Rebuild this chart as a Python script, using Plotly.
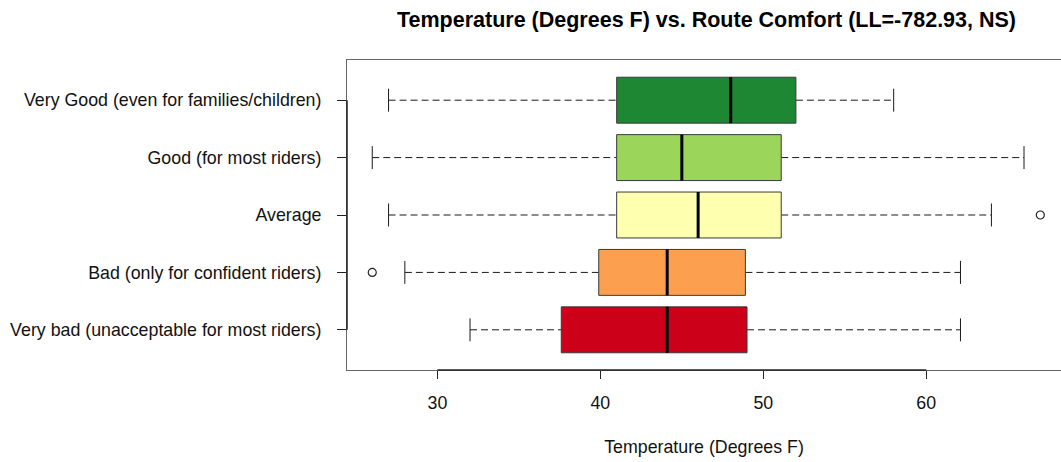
import plotly.graph_objects as go

# Route comfort categories, bottom to top
categories = [
    "Very bad (unacceptable for most riders)",
    "Bad (only for confident riders)",
    "Average",
    "Good (for most riders)",
    "Very Good (even for families/children)",
]
lower_whisker = [32.0, 28.0, 27.0, 26.0, 27.0]
q1 = [37.6, 39.9, 41.0, 41.0, 41.0]
median = [44.1, 44.1, 46.0, 45.0, 48.0]
q3 = [49.0, 48.9, 51.1, 51.1, 52.0]
upper_whisker = [62.1, 62.1, 64.0, 66.0, 58.0]
outlier_cat = [2, 3]
outlier_temp = [26.0, 67.0]
fill_colors = ["#CC0018", "#FCA050", "#FFFFB0", "#9BD65A", "#1D8734"]

x_ticks = [30, 40, 50, 60]
box_half = 0.4
staple_half = 0.2

fig = go.Figure()

for i, cat in enumerate(categories):
    pos = i + 1
    # whiskers (dashed)
    fig.add_trace(go.Scatter(
        x=[lower_whisker[i], q1[i], None, q3[i], upper_whisker[i]],
        y=[pos, pos, None, pos, pos],
        mode="lines", line=dict(color="#1a1a1a", width=1, dash="7px,4px"),
        hoverinfo="skip", showlegend=False))
    # staples
    fig.add_trace(go.Scatter(
        x=[lower_whisker[i], lower_whisker[i], None, upper_whisker[i], upper_whisker[i]],
        y=[pos - staple_half, pos + staple_half, None, pos - staple_half, pos + staple_half],
        mode="lines", line=dict(color="#1a1a1a", width=1),
        hoverinfo="skip", showlegend=False))
    # box
    fig.add_trace(go.Scatter(
        x=[q1[i], q3[i], q3[i], q1[i], q1[i]],
        y=[pos - box_half, pos - box_half, pos + box_half, pos + box_half, pos - box_half],
        mode="lines", fill="toself", fillcolor=fill_colors[i],
        line=dict(color="#3a3a3a", width=1),
        name=cat, showlegend=False))
    # median
    fig.add_trace(go.Scatter(
        x=[median[i], median[i]],
        y=[pos - box_half, pos + box_half],
        mode="lines", line=dict(color="#000000", width=3),
        hoverinfo="skip", showlegend=False))

# outliers
fig.add_trace(go.Scatter(
    x=outlier_temp, y=outlier_cat, mode="markers",
    marker=dict(symbol="circle-open", size=8, color="#222222", line=dict(width=1.2)),
    showlegend=False))

# darker axis segments spanning the tick range
fig.add_shape(type="line", xref="x", yref="paper", x0=x_ticks[0], x1=x_ticks[-1], y0=0, y1=0,
              line=dict(color="#222222", width=1.5))
fig.add_shape(type="line", xref="paper", yref="y", x0=0, x1=0, y0=1, y1=len(categories),
              line=dict(color="#222222", width=1.5))

font_family = "Liberation Sans, Arial, Helvetica, sans-serif"

fig.update_layout(
    width=1061, height=462,
    margin=dict(l=347, r=0, t=60, b=92),
    paper_bgcolor="white", plot_bgcolor="white",
    font=dict(family=font_family, size=17.8, color="#111111"),
    title=dict(
        text="<b>Temperature (Degrees F) vs. Route Comfort (LL=-782.93, NS)</b>",
        font=dict(family=font_family, size=21.5, color="#000000"),
        x=0.5035, xref="paper", xanchor="center",
        y=1 - 19 / 462, yref="container", yanchor="middle"),
    xaxis=dict(
        range=[24.45, 68.27], tickvals=x_ticks, ticktext=[str(t) for t in x_ticks],
        showgrid=False, zeroline=False,
        showline=True, mirror=True, linecolor="#666666", linewidth=1,
        ticks="outside", ticklen=8, tickcolor="#222222", tickwidth=1,
        tickfont=dict(size=17.8), ticklabelstandoff=9,
        title=dict(text="Temperature (Degrees F)", font=dict(size=17.8), standoff=28)),
    yaxis=dict(
        range=[0.3, 5.7], tickvals=list(range(1, len(categories) + 1)), ticktext=categories,
        showgrid=False, zeroline=False,
        showline=True, mirror=False, linecolor="#666666", linewidth=1,
        ticks="outside", ticklen=9, tickcolor="#222222", tickwidth=1,
        tickfont=dict(size=17.8), ticklabelstandoff=12),
)

fig.write_html("out.html")
